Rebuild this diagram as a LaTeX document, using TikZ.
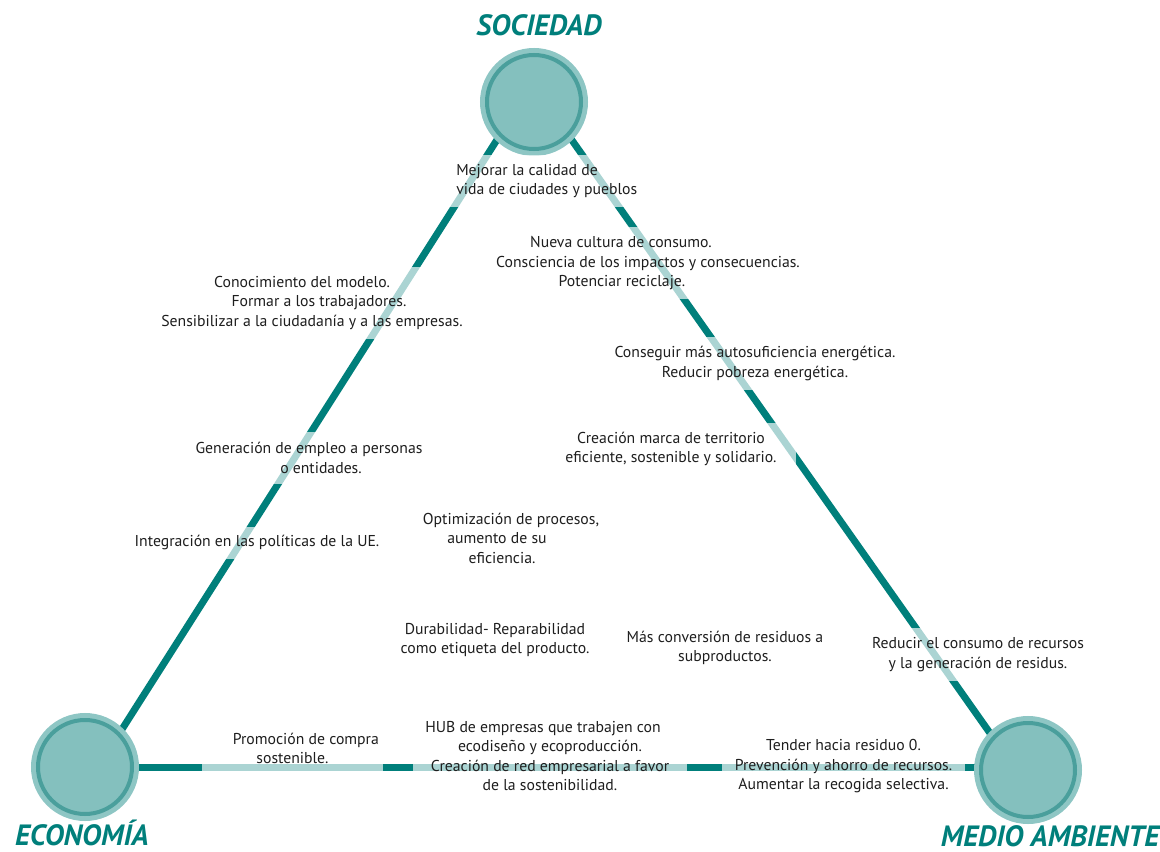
\documentclass[tikz,border=0pt]{standalone}
\usepackage{fontspec}
\setmainfont{PT Sans}
\usetikzlibrary{calc,backgrounds}
\definecolor{teal1}{HTML}{007F7B}
\definecolor{ring}{HTML}{4A9F9C}
\definecolor{disc}{HTML}{84C0BE}
\definecolor{halo}{HTML}{8EC6C4}
\definecolor{txt}{HTML}{1E1E1E}
\tikzset{
  pillar/.style={circle, minimum size=70.5pt, inner sep=0pt, fill=disc, draw=ring,
    line width=3pt, preaction={draw=halo, line width=10.5pt}},
  side/.style={teal1, line width=5.25pt},
  note/.style={fill=white, fill opacity=.67, text opacity=1, text=txt, inner sep=0pt,
    align=center, font=\fontsize{11.8}{14.6}\selectfont},
  pole/.style={text=teal1, anchor=base, inner sep=0pt, font=\fontsize{22}{26}\selectfont\bfseries\itshape},
}
\begin{document}
\begin{tikzpicture}[x=0.75pt,y=-0.75pt]
\useasboundingbox (0,0) rectangle (1160,852);

% the three pillars
\node[pillar] (soc) at (534,102) {};
\node[pillar] (eco) at (85,767) {};
\node[pillar] (med) at (1028,770) {};

\begin{scope}[on background layer]
  \draw[side] ($(soc)+(-13,0)$) -- ($(eco)+(13,0)$);
  \draw[side] ($(soc)+(11,0)$) -- ($(med)+(-12,0)$);
  \draw[side] (eco) -- (eco -| med);
\end{scope}

\node[pole] (socT) at (539,36) {SOCIEDAD};
\node[pole] (ecoT) at (82,845) {ECONOMÍA};
\node[pole] (medT) at (1050,846) {MEDIO AMBIENTE};

% actions
\node[note, anchor=west, align=left, inner xsep=4.5pt, minimum height=39pt] (mejorar) at (450,181)
  {Mejorar la calidad de\\vida de ciudades y pueblos};
\node[note, minimum height=54pt] (cultura) at (648,263.5)
  {\hspace*{-40.5pt}Nueva cultura de consumo.\\Consciencia de los impactos y consecuencias.\\\hspace*{-39pt}Potenciar reciclaje.};
\node[note, minimum height=54pt] (modelo) at (312,303)
  {\hspace*{-15pt}Conocimiento del modelo.\\\hspace*{10.5pt}Formar a los trabajadores.\\Sensibilizar a la ciudadanía y a las empresas.};
\node[note, minimum height=39.75pt] (energia) at (755,363.5)
  {Conseguir más autosuficiencia energética.\\Reducir pobreza energética.};
\node[note, minimum height=39pt] (empleo) at (309,458)
  {Generación de empleo a personas\\\hspace*{18pt}o entidades.};
\node[note, minimum height=39pt, minimum width=187.5pt] (marca) at (671,449)
  {Creación marca de territorio\\eficiente, sostenible y solidario.};
\node[note, minimum height=24pt] (ue) at (257,543)
  {Integración en las políticas de la UE.};
\node[note] (procesos) at (505,538)
  {\hspace*{9pt}Optimización de procesos,\\\hspace*{-12pt}aumento de su\\\hspace*{-4.5pt}eficiencia.};
\node[note] (durab) at (495,640)
  {Durabilidad- Reparabilidad\\como etiqueta del producto.};
\node[note] (residuos) at (725,648)
  {Más conversión de residuos a\\subproductos.};
\node[note, minimum height=39.75pt] (consumo) at (978,654.5)
  {Reducir el consumo de recursos\\y la generación de residus.};
\node[note, minimum height=39pt, minimum width=135.75pt] (compra) at (292.5,748.5)
  {\hspace*{20pt}Promoción de compra\\sostenible.};
\node[note, minimum height=69pt, minimum width=205.5pt] (hub) at (550,756)
  {\hspace*{-10.5pt}HUB de empresas que trabajen con\\ecodiseño y ecoproducción.\\Creación de red empresarial a favor\\de la sostenibilidad.};
\node[note, minimum height=54pt, minimum width=182.25pt] (cero) at (843.5,766.5)
  {Tender hacia residuo 0.\\Prevención y ahorro de recursos.\\Aumentar la recogida selectiva.};
\end{tikzpicture}
\end{document}
